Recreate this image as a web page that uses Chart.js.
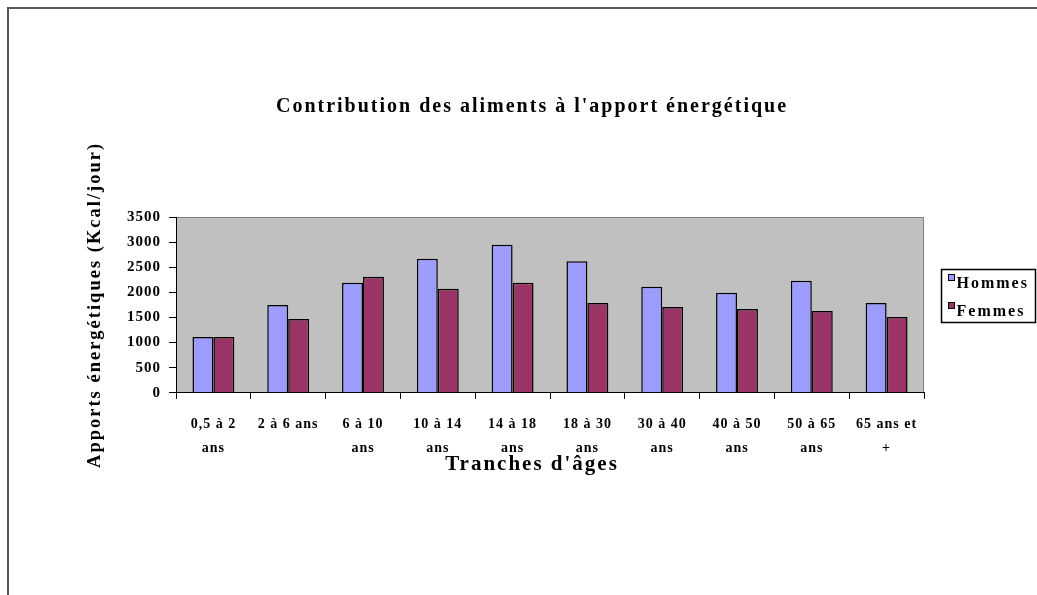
<!DOCTYPE html>
<html>
<head>
<meta charset="utf-8">
<title>Contribution des aliments</title>
<script src="https://cdn.jsdelivr.net/npm/chart.js@4.4.1/dist/chart.umd.min.js"></script>
<style>
  html, body { margin: 0; padding: 0; background: #fff; overflow: hidden; }
  #frame { position: absolute; left: 7px; top: 7px; width: 1100px; height: 700px;
           border-left: 2px solid #555; border-top: 2px solid #555; }
  #wrap { position: absolute; left: 0; top: 0; width: 1064px; height: 595px; }
</style>
</head>
<body>
<div id="frame"></div>
<div id="wrap"><canvas id="chart"></canvas></div>
<script>
const categories = [
  ['0,5 à 2', 'ans'], ['2 à 6 ans'], ['6 à 10', 'ans'], ['10 à 14', 'ans'], ['14 à 18', 'ans'],
  ['18 à 30', 'ans'], ['30 à 40', 'ans'], ['40 à 50', 'ans'], ['50 à 65', 'ans'], ['65 ans et', '+']
];
const hommes = [1110, 1750, 2190, 2670, 2950, 2620, 2110, 1990, 2230, 1790];
const femmes = [1110, 1470, 2310, 2070, 2190, 1790, 1710, 1670, 1630, 1510];
const seriesNames = ['Hommes', 'Femmes'];
const seriesColors = ['#9999ff', '#993366'];
const dotColors = ['#aab0ff', '#a23d70'];

const chartTitle = "Contribution des aliments à l'apport énergétique";
const yTitle = 'Apports énergétiques (Kcal/jour)';
const xTitle = "Tranches d'âges";

const serif = "'Liberation Serif', 'Times New Roman', serif";

const canvas = document.getElementById('chart');
const ctx = canvas.getContext('2d');

// small dotted fill like the old spreadsheet pattern
function dotted(base, dot) {
  const c = document.createElement('canvas');
  c.width = 4; c.height = 4;
  const g = c.getContext('2d');
  g.fillStyle = base; g.fillRect(0, 0, 4, 4);
  g.fillStyle = dot; g.fillRect(1, 1, 1, 1); g.fillRect(3, 3, 1, 1);
  return ctx.createPattern(c, 'repeat');
}

const plotDecor = {
  id: 'plotDecor',
  beforeLayout(chart) { chart.ctx.letterSpacing = '1px'; },
  beforeDraw(chart) {
    const { ctx, chartArea: a } = chart;
    // titles (drawn before the datasets) get wider spacing
    ctx.letterSpacing = '2px';
    ctx.save();
    ctx.fillStyle = '#c0c0c0';
    ctx.fillRect(a.left, a.top, a.right - a.left, a.bottom - a.top);
    ctx.strokeStyle = '#808080';
    ctx.lineWidth = 1;
    ctx.beginPath();
    ctx.moveTo(a.left, a.top + 0.5);
    ctx.lineTo(a.right - 0.5, a.top + 0.5);
    ctx.lineTo(a.right - 0.5, a.bottom);
    ctx.stroke();
    ctx.restore();
  },
  afterDatasetsDraw(chart) { chart.ctx.letterSpacing = '1px'; },
  afterDraw(chart) {
    const { ctx, chartArea: a } = chart;
    const x0 = Math.round(a.right) + 17.5;
    const y0 = Math.round(a.top) + 52.5;
    ctx.save();
    ctx.fillStyle = '#fff';
    ctx.fillRect(x0, y0, 94, 53);
    ctx.strokeStyle = '#000';
    ctx.lineWidth = 1.5;
    ctx.strokeRect(x0, y0, 94, 53);
    ctx.lineWidth = 1;
    ctx.font = 'bold 16px ' + serif;
    ctx.letterSpacing = '2px';
    ctx.textBaseline = 'middle';
    chart.data.datasets.forEach((ds, i) => {
      const cy = y0 + 14 + i * 28;
      ctx.fillStyle = seriesColors[i];
      ctx.fillRect(x0 + 7, cy - 9, 6, 6);
      ctx.strokeRect(x0 + 7, cy - 9, 6, 6);
      ctx.fillStyle = '#000';
      ctx.fillText(ds.label, x0 + 15, cy);
    });
    ctx.restore();
  }
};

new Chart(ctx, {
  type: 'bar',
  data: {
    labels: categories,
    datasets: [
      {
        label: seriesNames[0],
        data: hommes,
        backgroundColor: dotted(seriesColors[0], dotColors[0]),
        borderColor: '#000',
        borderWidth: 1.5
      },
      {
        label: seriesNames[1],
        data: femmes,
        backgroundColor: dotted(seriesColors[1], dotColors[1]),
        borderColor: '#000',
        borderWidth: 1.5
      }
    ]
  },
  options: {
    responsive: true,
    maintainAspectRatio: false,
    animation: false,
    layout: { padding: 0 },
    datasets: { bar: { categoryPercentage: 0.56, barPercentage: 1 } },
    plugins: {
      legend: { display: false },
      tooltip: { enabled: false },
      title: {
        display: true,
        text: chartTitle,
        color: '#000',
        font: { family: serif, size: 20, weight: 'bold' },
        padding: { top: 95, bottom: 98 }
      },
      subtitle: {
        display: true,
        position: 'bottom',
        text: xTitle,
        color: '#000',
        font: { family: serif, size: 21, weight: 'bold', lineHeight: 1.15 },
        padding: { top: 0, bottom: 118 }
      }
    },
    scales: {
      x: {
        grid: { drawOnChartArea: false, drawTicks: true, tickLength: 6, color: '#000', offset: true },
        border: { color: '#000', width: 1 },
        ticks: {
          z: 1,
          color: '#000',
          maxRotation: 0,
          autoSkip: false,
          padding: 14,
          font: { family: serif, size: 14, weight: 'bold', lineHeight: 1.7 }
        },
        afterFit(scale) { scale.height = 60; }
      },
      y: {
        min: 0,
        max: 3500,
        grid: { drawOnChartArea: false, drawTicks: true, tickLength: 7, color: '#000' },
        border: { color: '#000', width: 1 },
        ticks: {
          z: 1,
          stepSize: 500,
          color: '#000',
          padding: 8,
          font: { family: serif, size: 15, weight: 'bold' },
          callback: v => String(v)
        },
        title: {
          display: true,
          text: yTitle,
          color: '#000',
          font: { family: serif, size: 18.5, weight: 'bold', lineHeight: 1.3 },
          padding: { top: 83, bottom: 0 }
        },
        afterFit(scale) { scale.width = 176; }
      },
      // empty right-hand box that leaves room for the legend
      side: {
        type: 'linear',
        position: 'right',
        grid: { display: false },
        border: { display: false },
        ticks: { display: false },
        afterFit(scale) { scale.width = 140; }
      }
    }
  },
  plugins: [plotDecor]
});
</script>
</body>
</html>
